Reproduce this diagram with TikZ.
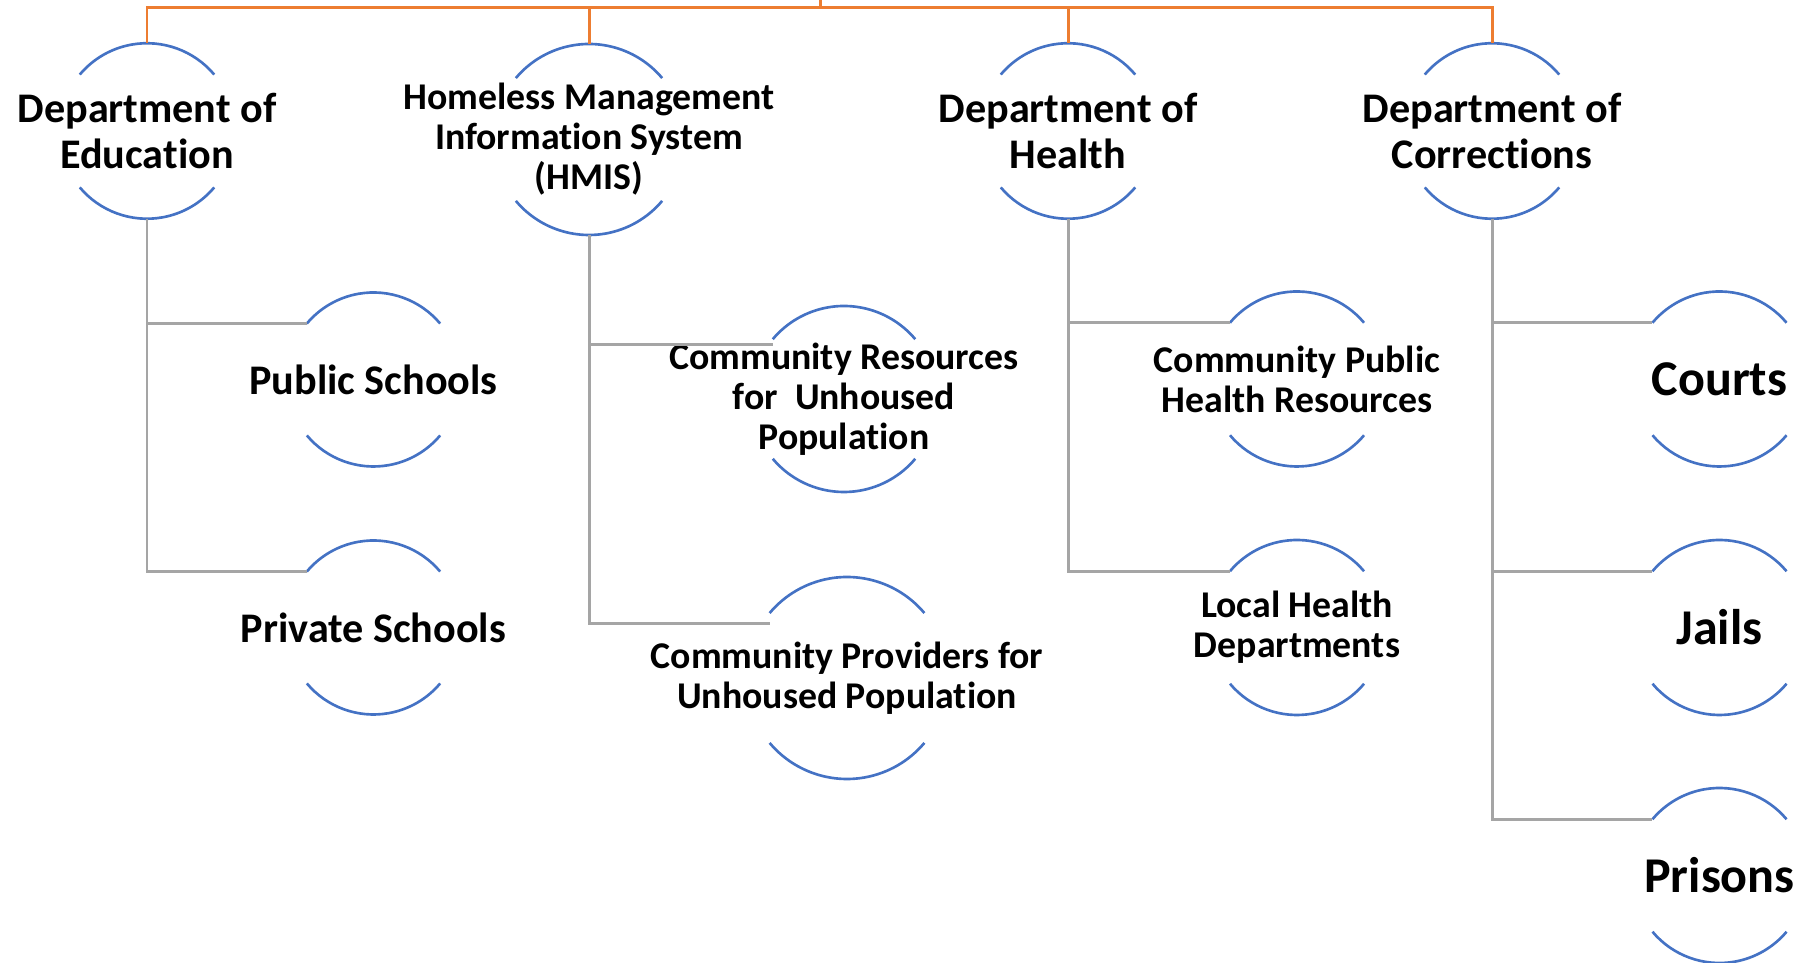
\documentclass[tikz,border=0pt]{standalone}
\usepackage{fontspec}
\setmainfont{Carlito}[Ligatures={NoCommon}]
\definecolor{rimblue}{HTML}{4472C4}
\definecolor{trunkorange}{HTML}{ED7D31}
\definecolor{linkgray}{HTML}{A5A5A5}
\tikzset{
    ring/.style = {
        circle,
        inner sep = 0pt,
        outer sep = 0pt,
    },
    rim/.style   = {draw=rimblue, line width=1.5pt},
    link/.style  = {draw=linkgray, line width=1.7pt},
    trunk/.style = {draw=trunkorange, line width=1.7pt},
    head/.style  = {font=\bfseries\fontsize{24}{26.2}\selectfont, align=center},
    leaf/.style  = {font=\bfseries\fontsize{21.5}{22.8}\selectfont, align=center},
    big/.style   = {font=\bfseries\fontsize{28.5}{30}\selectfont},
}

\begin{document}
\begin{tikzpicture}
  \useasboundingbox (0,0) rectangle (36.26,19.26);

  % departments
  \node[ring, minimum size=3.51cm,
        label={[head]center:{Department of\\Education}}] (edu) at (2.94,16.64) {};
  \node[ring, minimum size=3.82cm,
        label={[leaf]center:{Homeless Management\\Information System\\(HMIS)}}] (hmis) at (11.78,16.47) {};
  \node[ring, minimum size=3.51cm,
        label={[head]center:{Department of\\Health}}] (health) at (21.36,16.64) {};
  \node[ring, minimum size=3.51cm,
        label={[head]center:{Department of\\Corrections}}] (corr) at (29.84,16.64) {};

  % second row
  \node[ring, minimum size=3.48cm,
        label={[head]center:Public Schools}] (pub) at (7.47,11.67) {};
  \node[ring, minimum size=3.48cm,
        label={[head]center:Private Schools}] (priv) at (7.47,6.71) {};
  \node[ring, minimum size=3.72cm,
        label={[leaf]center:{Community Resources\\for\ \ Unhoused\\Population}}] (cres) at (16.88,11.28) {};
  \node[ring, minimum size=4.04cm,
        label={[leaf]center:{Community Providers for\\Unhoused Population}}] (cprov) at (16.94,5.70) {};
  \node[ring, minimum size=3.50cm,
        label={[leaf]center:{Community Public\\Health Resources}}] (cph) at (25.94,11.68) {};
  \node[ring, minimum size=3.50cm,
        label={[leaf]center:{Local Health\\Departments}}] (lhd) at (25.94,6.71) {};
  \node[ring, minimum size=3.50cm,
        label={[big]center:Courts}] (courts) at (34.39,11.68) {};
  \node[ring, minimum size=3.50cm,
        label={[big]center:Jails}] (jails) at (34.39,6.71) {};
  \node[ring, minimum size=3.50cm,
        label={[big]center:Prisons}] (prisons) at (34.39,1.75) {};

  % only the top and bottom of each ring is drawn
  \foreach \n/\r in {edu/1.755, hmis/1.91, health/1.755, corr/1.755,
                     pub/1.74, priv/1.74, cres/1.86, cprov/2.02,
                     cph/1.75, lhd/1.75, courts/1.75, jails/1.75, prisons/1.75} {
    \draw[rim] (\n.40) arc[start angle=40, end angle=140, radius=\r cm];
    \draw[rim] (\n.220) arc[start angle=220, end angle=320, radius=\r cm];
  }

  % orange bar on top
  \coordinate (top) at (16.40,19.26);
  \coordinate (bar) at (16.40,19.10);
  \draw[trunk] (edu.north) |- (bar) -| (corr.north);
  \draw[trunk] (hmis.north) |- (bar);
  \draw[trunk] (health.north) |- (bar);
  \draw[trunk] (top) -- (bar);

  % gray links
  \draw[link] (edu.south) |- (pub.140);
  \draw[link] (edu.south) |- (priv.140);
  \draw[link] (hmis.south) |- ([yshift=-0.1cm]cres.140);
  \draw[link] (hmis.south) |- ([yshift=-0.21cm]cprov.140);
  \draw[link] (health.south) |- (cph.140);
  \draw[link] (health.south) |- (lhd.140);
  \draw[link] (corr.south) |- (courts.140);
  \draw[link] (corr.south) |- (jails.140);
  \draw[link] (corr.south) |- (prisons.140);
\end{tikzpicture}
\end{document}
